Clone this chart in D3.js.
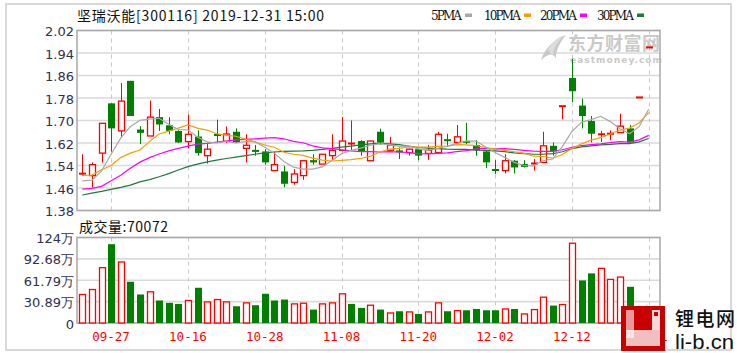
<!DOCTYPE html>
<html><head><meta charset="utf-8">
<script src="https://cdn.jsdelivr.net/npm/d3@7/dist/d3.min.js"></script>
<style>body{margin:0;background:#fff}svg{display:block}</style>
</head><body><svg id="c" width="737" height="353"></svg>
<script>
// ---- data ----
const openP  = [1.510,1.504,1.584,1.761,1.663,1.841,1.668,1.645,1.712,1.683,1.663,1.625,1.643,1.575,1.652,1.626,1.660,1.601,1.594,1.590,1.522,1.519,1.480,1.504,1.559,1.545,1.575,1.594,1.616,1.627,1.557,1.660,1.594,1.592,1.586,1.598,1.583,1.586,1.632,1.622,1.626,1.613,1.590,1.526,1.522,1.557,1.545,1.545,1.551,1.610,1.751,1.851,1.753,1.698,1.649,1.651,1.657,1.672,1.782,1.960];
const highP  = [1.580,1.551,1.690,1.761,1.833,1.841,1.680,1.771,1.741,1.712,1.665,1.721,1.665,1.618,1.703,1.679,1.672,1.651,1.613,1.598,1.590,1.539,1.527,1.557,1.580,1.580,1.651,1.712,1.700,1.630,1.627,1.671,1.642,1.604,1.600,1.600,1.613,1.660,1.653,1.684,1.692,1.630,1.592,1.559,1.580,1.559,1.559,1.563,1.660,1.622,1.751,1.919,1.778,1.716,1.663,1.665,1.724,1.684,1.782,1.960];
const lowP   = [1.505,1.463,1.551,1.590,1.639,1.716,1.616,1.645,1.663,1.651,1.620,1.601,1.575,1.547,1.622,1.620,1.620,1.551,1.575,1.543,1.522,1.463,1.472,1.489,1.543,1.545,1.559,1.594,1.592,1.575,1.557,1.613,1.592,1.563,1.575,1.559,1.560,1.586,1.606,1.622,1.616,1.575,1.531,1.510,1.512,1.512,1.533,1.522,1.551,1.575,1.704,1.766,1.672,1.622,1.624,1.630,1.657,1.620,1.782,1.960];
const closeP = [1.512,1.543,1.690,1.672,1.769,1.716,1.656,1.712,1.686,1.663,1.622,1.651,1.584,1.598,1.645,1.652,1.622,1.612,1.590,1.551,1.543,1.475,1.510,1.557,1.551,1.580,1.594,1.627,1.620,1.590,1.627,1.622,1.613,1.588,1.598,1.575,1.594,1.651,1.628,1.642,1.622,1.594,1.551,1.522,1.557,1.533,1.535,1.549,1.610,1.590,1.751,1.804,1.716,1.653,1.653,1.655,1.680,1.622,1.782,1.960];
const volume = [41.2,48.4,80.0,113.9,88.2,59.6,41.2,45.1,32.5,29.1,27.6,32.5,50.9,30.5,33.9,30.5,24.2,29.1,25.7,42.2,32.5,33.9,27.6,28.6,19.4,27.6,29.1,42.2,27.6,21.8,25.7,19.4,14.5,17.0,16.0,13.1,16.0,29.1,17.0,17.9,18.4,20.3,18.4,18.4,20.3,20.3,13.1,19.4,37.3,25.2,26.7,115.3,61.5,71.7,79.0,63.0,66.4,52.3,10.5,7.0072];
const volUp  = [1,1,1,0,1,0,0,1,0,0,0,1,0,1,1,1,0,1,0,0,0,0,1,1,0,1,1,1,0,0,1,0,1,0,1,0,1,1,0,1,0,0,0,0,1,0,1,1,1,0,1,1,0,0,1,1,1,0,1,1];
const ma5  = [1.485,1.488,1.520,1.580,1.637,1.678,1.701,1.705,1.708,1.687,1.668,1.667,1.641,1.624,1.620,1.626,1.620,1.626,1.624,1.605,1.584,1.554,1.534,1.527,1.527,1.535,1.558,1.582,1.594,1.602,1.612,1.617,1.614,1.608,1.610,1.599,1.594,1.601,1.609,1.618,1.627,1.627,1.607,1.586,1.569,1.551,1.540,1.539,1.557,1.563,1.607,1.661,1.694,1.703,1.715,1.696,1.671,1.653,1.678,1.740];
const ma10 = [1.505,1.506,1.525,1.540,1.568,1.584,1.595,1.625,1.652,1.662,1.673,1.684,1.673,1.666,1.653,1.647,1.644,1.634,1.624,1.613,1.605,1.587,1.580,1.576,1.566,1.559,1.556,1.558,1.561,1.565,1.573,1.588,1.598,1.601,1.606,1.605,1.605,1.608,1.609,1.614,1.613,1.611,1.604,1.598,1.594,1.589,1.584,1.573,1.572,1.566,1.579,1.600,1.617,1.630,1.639,1.652,1.666,1.673,1.691,1.728];
const ma20 = [1.456,1.459,1.466,1.486,1.505,1.530,1.552,1.568,1.581,1.592,1.601,1.609,1.616,1.619,1.623,1.627,1.631,1.633,1.635,1.637,1.639,1.635,1.626,1.621,1.610,1.603,1.600,1.596,1.592,1.589,1.589,1.588,1.589,1.588,1.586,1.582,1.581,1.583,1.585,1.589,1.593,1.599,1.601,1.599,1.600,1.597,1.594,1.591,1.590,1.590,1.596,1.605,1.611,1.614,1.617,1.621,1.625,1.623,1.631,1.647];
const ma30 = [1.435,1.442,1.448,1.455,1.462,1.470,1.482,1.490,1.500,1.511,1.524,1.536,1.545,1.553,1.559,1.565,1.570,1.575,1.580,1.585,1.588,1.590,1.591,1.592,1.594,1.597,1.601,1.605,1.609,1.613,1.617,1.620,1.617,1.614,1.609,1.604,1.602,1.600,1.598,1.597,1.597,1.595,1.594,1.592,1.589,1.585,1.582,1.580,1.580,1.582,1.589,1.600,1.606,1.610,1.613,1.615,1.618,1.618,1.624,1.636];
const xTickIdx    = [3,11,19,27,35,43,51,59];
const xTickLabels = ["09-27","10-16","10-28","11-08","11-20","12-02","12-12","12-31"];
const priceTicks  = [2.02,1.94,1.86,1.78,1.70,1.62,1.54,1.46,1.38];
const volTicks      = [123.56,92.68,61.79,30.89,0];
const volTickLabels = ["124万","92.68万","61.79万","30.89万","0"];
const maNames  = ["5PMA","10PMA","20PMA","30PMA"];
const maColors = ["#a8a8a8","#f5a000","#ff00ff","#1e7a3c"];
const titleText = "坚瑞沃能[300116] 2019-12-31 15:00";
const volTitle = "成交量:70072";

// ---- drawing ----
const RED = "#ff0000", GREEN = "#008000";
const svg = d3.select("#c");
const L = 77, R = 660;
const x  = d3.scaleLinear().domain([0, 59]).range([82.3, 648.7]);
const yP = d3.scaleLinear().domain([1.38, 2.02]).range([210.5, 30.5]);
const yV = d3.scaleLinear().domain([0, 123.56]).range([323, 237.5]);

svg.append("rect").attr("x",6).attr("y",4).attr("width",725).attr("height",346)
  .attr("fill","none").attr("stroke","#d8d8d8").attr("stroke-width",2);

// gridlines
const g = svg.append("g");
g.selectAll(".pg").data(priceTicks).join("line")
  .attr("x1",L).attr("x2",R).attr("y1",d=>yP(d)).attr("y2",d=>yP(d))
  .attr("stroke","#dadada").attr("stroke-width",1.6);
g.selectAll(".vg").data(volTicks).join("line")
  .attr("x1",L).attr("x2",R).attr("y1",d=>yV(d)).attr("y2",d=>yV(d))
  .attr("stroke","#dadada").attr("stroke-width",1.6);
xTickIdx.forEach(i=>{
  const xx = Math.round(x(i))+0.5;
  [[yP(2.02),yP(1.38)],[yV(123.56),yV(0)]].forEach(([a,b])=>{
    g.append("line").attr("x1",xx).attr("x2",xx).attr("y1",a).attr("y2",b)
      .attr("stroke","#c8c8c8").attr("stroke-dasharray","4,4");
  });
});

// watermark
const wm = svg.append("g").attr("fill","#c9c9c9");
wm.append("path").attr("d","M541,60 C545,48 553,40 566,35 C560,42 556,50 556,58 C552,52 548,54 541,60 Z");
wm.append("path").attr("d","M548,50 C552,42 558,37 563,36 C556,44 553,50 553,56 Z").attr("fill","#dcdcdc");
wm.append("text").attr("x",568).attr("y",50).attr("font-family","Noto Sans CJK SC").attr("font-weight",700)
  .attr("font-size",18).attr("textLength",92).text("东方财富网");
wm.append("text").attr("x",570).attr("y",63).attr("font-family","DejaVu Sans").attr("font-weight",700)
  .attr("font-size",9).attr("textLength",92).text("eastmoney.com");

// panel borders
svg.append("rect").attr("x",L).attr("y",yP(2.02)).attr("width",R-L).attr("height",yP(1.38)-yP(2.02))
  .attr("fill","none").attr("stroke","#a8a8a8").attr("stroke-width",1.5);
svg.append("rect").attr("x",L).attr("y",yV(123.56)).attr("width",R-L).attr("height",yV(0)-yV(123.56))
  .attr("fill","none").attr("stroke","#a8a8a8").attr("stroke-width",1.5);

// candles
const idx = d3.range(closeP.length);
const cg = svg.append("g");
idx.forEach(i=>{
  const o=openP[i], c=closeP[i], h=highP[i], l=lowP[i];
  const cx = Math.round(x(i))+0.5;
  const up = c >= o;
  const col = up ? RED : GREEN;
  const top = yP(Math.max(o,c)), bot = yP(Math.min(o,c));
  if (bot - top < 1.5) {
    cg.append("line").attr("x1",cx).attr("x2",cx).attr("y1",yP(h)).attr("y2",yP(l)).attr("stroke",col);
    cg.append("rect").attr("x",cx-3.5).attr("y",(top+bot)/2-1).attr("width",7).attr("height",2).attr("fill",col);
  } else if (up) {
    cg.append("line").attr("x1",cx).attr("x2",cx).attr("y1",yP(h)).attr("y2",top).attr("stroke",col);
    cg.append("line").attr("x1",cx).attr("x2",cx).attr("y1",bot).attr("y2",yP(l)).attr("stroke",col);
    cg.append("rect").attr("x",cx-3).attr("y",top).attr("width",6).attr("height",bot-top)
      .attr("fill","#fff").attr("stroke",col).attr("stroke-width",1.3);
  } else {
    cg.append("line").attr("x1",cx).attr("x2",cx).attr("y1",yP(h)).attr("y2",yP(l)).attr("stroke",col);
    cg.append("rect").attr("x",cx-3.5).attr("y",top).attr("width",7).attr("height",bot-top).attr("fill",col);
  }
});

// MA lines
[ma30, ma20, ma10, ma5].forEach((arr,k)=>{
  const color = maColors[3-k];
  svg.append("path").datum(arr)
    .attr("d", d3.line().x((d,i)=>x(i)).y(d=>yP(d)))
    .attr("fill","none").attr("stroke",color).attr("stroke-width",1.2);
});

// volume bars
const vg = svg.append("g");
idx.forEach(i=>{
  const cx = Math.round(x(i))+0.5;
  const v = volume[i];
  if (volUp[i]) {
    vg.append("rect").attr("x",cx-3).attr("y",yV(v)).attr("width",6).attr("height",yV(0)-yV(v))
      .attr("fill","#fff").attr("stroke",RED).attr("stroke-width",1.3);
  } else {
    vg.append("rect").attr("x",cx-3.5).attr("y",yV(v)).attr("width",7).attr("height",yV(0)-yV(v))
      .attr("fill",GREEN);
  }
});

// axis labels
const axFont = "DejaVu Sans";
svg.selectAll(".pl").data(priceTicks).join("text")
  .attr("x",74).attr("y",d=>yP(d)+5.5).attr("text-anchor","end")
  .attr("font-family",axFont).attr("font-size",13).attr("fill","#2f2f4f")
  .text(d=>d.toFixed(2));
svg.selectAll(".vl").data(volTicks).join("text")
  .attr("x",74).attr("y",d=>yV(d)+5.5).attr("text-anchor","end")
  .attr("font-family",axFont).attr("font-size",13).attr("fill","#2f2f4f")
  .text((d,i)=>volTickLabels[i]);
svg.selectAll(".xl").data(xTickIdx).join("text")
  .attr("x",d=>x(d)).attr("y",341).attr("text-anchor","middle")
  .attr("font-family","DejaVu Sans Mono").attr("font-size",12.5).attr("fill",RED)
  .text((d,i)=>xTickLabels[i]);

// title & legend
svg.append("text").attr("x",77).attr("y",21).attr("font-family","Noto Sans CJK SC")
  .attr("font-size",14).attr("fill","#111").attr("textLength",247).text(titleText);
const legX = [431,484,540,597];
const legW = [31,37,37,37];
maNames.forEach((n,k)=>{
  svg.append("text").attr("x",legX[k]).attr("y",20).attr("font-family","DejaVu Serif")
    .attr("font-size",12).attr("fill","#111").attr("textLength",legW[k]).text(n);
  svg.append("rect").attr("x",legX[k]+legW[k]+3).attr("y",13.5).attr("width",7).attr("height",3.5)
    .attr("fill",maColors[k]);
});
svg.append("text").attr("x",79).attr("y",232).attr("font-family","Noto Sans CJK SC")
  .attr("font-size",14).attr("fill","#111").attr("textLength",89).text(volTitle);

// site logo
const lg = svg.append("g");
lg.append("rect").attr("x",621).attr("y",306).attr("width",44).attr("height",45).attr("fill","#c80000");
lg.append("rect").attr("x",626).attr("y",310).attr("width",8).attr("height",28).attr("fill","#fff").attr("opacity",0.6);
lg.append("rect").attr("x",626).attr("y",330).attr("width",34).attr("height",16).attr("fill","#fff").attr("opacity",0.75);
lg.append("rect").attr("x",652).attr("y",310).attr("width",8).attr("height",20).attr("fill","#fff").attr("opacity",0.85);
lg.append("rect").attr("x",654).attr("y",312).attr("width",4).attr("height",4).attr("fill","#c80000");
svg.append("text").attr("x",675).attr("y",326).attr("font-family","Noto Sans CJK SC").attr("font-weight",500)
  .attr("font-size",19).attr("textLength",60).attr("lengthAdjust","spacing").attr("fill","#111").text("锂电网");
svg.append("text").attr("x",675).attr("y",349).attr("font-family","Liberation Sans")
  .attr("font-size",21).attr("textLength",59).attr("lengthAdjust","spacingAndGlyphs").attr("fill","#111").text("li-b.cn");
</script></body></html>
